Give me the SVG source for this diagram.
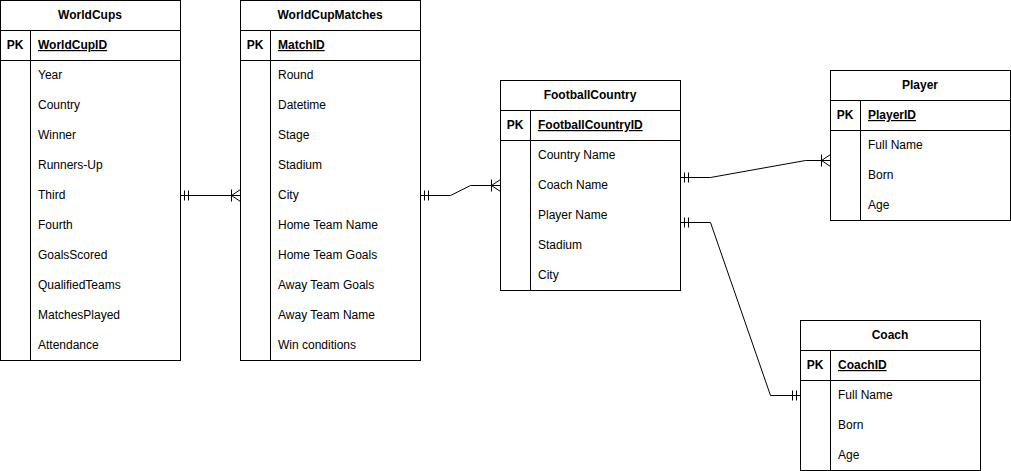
<svg xmlns="http://www.w3.org/2000/svg" width="1011" height="471" viewBox="0 0 1011 471">
<style>
rect.box{fill:#fff;stroke:#000;stroke-width:1}
line.sep{stroke:#000;stroke-width:1}
text{font-family:"Liberation Sans",Arial,sans-serif;font-size:12px;fill:#000}
.t{font-weight:bold;text-anchor:middle}
.pk{font-weight:bold;text-anchor:middle}
.id{font-weight:bold;text-decoration:underline}
.c path{fill:none;stroke:#000;stroke-width:1}
</style>
<rect width="1011" height="471" fill="#fff"/>
<g id="WorldCups">
<rect class="box" x="0.5" y="0.5" width="180" height="360"/>
<line class="sep" x1="0.5" y1="30.5" x2="180.5" y2="30.5"/>
<line class="sep" x1="0.5" y1="60.5" x2="180.5" y2="60.5"/>
<line class="sep" x1="30.5" y1="30.5" x2="30.5" y2="360.5"/>
<text class="t" x="90" y="19">WorldCups</text>
<text class="pk" x="15" y="49">PK</text>
<text class="id" x="38" y="49">WorldCupID</text>
<text x="38" y="79">Year</text>
<text x="38" y="109">Country</text>
<text x="38" y="139">Winner</text>
<text x="38" y="169">Runners-Up</text>
<text x="38" y="199">Third</text>
<text x="38" y="229">Fourth</text>
<text x="38" y="259">GoalsScored</text>
<text x="38" y="289">QualifiedTeams</text>
<text x="38" y="319">MatchesPlayed</text>
<text x="38" y="349">Attendance</text>
</g>
<g id="WorldCupMatches">
<rect class="box" x="240.5" y="0.5" width="180" height="360"/>
<line class="sep" x1="240.5" y1="30.5" x2="420.5" y2="30.5"/>
<line class="sep" x1="240.5" y1="60.5" x2="420.5" y2="60.5"/>
<line class="sep" x1="270.5" y1="30.5" x2="270.5" y2="360.5"/>
<text class="t" x="330" y="19">WorldCupMatches</text>
<text class="pk" x="255" y="49">PK</text>
<text class="id" x="278" y="49">MatchID</text>
<text x="278" y="79">Round</text>
<text x="278" y="109">Datetime</text>
<text x="278" y="139">Stage</text>
<text x="278" y="169">Stadium</text>
<text x="278" y="199">City</text>
<text x="278" y="229">Home Team Name</text>
<text x="278" y="259">Home Team Goals</text>
<text x="278" y="289">Away Team Goals</text>
<text x="278" y="319">Away Team Name</text>
<text x="278" y="349">Win conditions</text>
</g>
<g id="FootballCountry">
<rect class="box" x="500.5" y="80.5" width="180" height="210"/>
<line class="sep" x1="500.5" y1="110.5" x2="680.5" y2="110.5"/>
<line class="sep" x1="500.5" y1="140.5" x2="680.5" y2="140.5"/>
<line class="sep" x1="530.5" y1="110.5" x2="530.5" y2="290.5"/>
<text class="t" x="590" y="99">FootballCountry</text>
<text class="pk" x="515" y="129">PK</text>
<text class="id" x="538" y="129">FootballCountryID</text>
<text x="538" y="159">Country Name</text>
<text x="538" y="189">Coach Name</text>
<text x="538" y="219">Player Name</text>
<text x="538" y="249">Stadium</text>
<text x="538" y="279">City</text>
</g>
<g id="Player">
<rect class="box" x="830.5" y="70.5" width="180" height="150"/>
<line class="sep" x1="830.5" y1="100.5" x2="1010.5" y2="100.5"/>
<line class="sep" x1="830.5" y1="130.5" x2="1010.5" y2="130.5"/>
<line class="sep" x1="860.5" y1="100.5" x2="860.5" y2="220.5"/>
<text class="t" x="920" y="89">Player</text>
<text class="pk" x="845" y="119">PK</text>
<text class="id" x="868" y="119">PlayerID</text>
<text x="868" y="149">Full Name</text>
<text x="868" y="179">Born</text>
<text x="868" y="209">Age</text>
</g>
<g id="Coach">
<rect class="box" x="800.5" y="320.5" width="180" height="150"/>
<line class="sep" x1="800.5" y1="350.5" x2="980.5" y2="350.5"/>
<line class="sep" x1="800.5" y1="380.5" x2="980.5" y2="380.5"/>
<line class="sep" x1="830.5" y1="350.5" x2="830.5" y2="470.5"/>
<text class="t" x="890" y="339">Coach</text>
<text class="pk" x="815" y="369">PK</text>
<text class="id" x="838" y="369">CoachID</text>
<text x="838" y="399">Full Name</text>
<text x="838" y="429">Born</text>
<text x="838" y="459">Age</text>
</g>
<g id="connectors" class="c">
<path d="M180.5 195.5 H240.5"/>
<path d="M184.5 190.5 V200.5 M188.5 190.5 V200.5"/>
<path d="M240.5 189.5 L231.5 195.5 L240.5 201.5 M231.5 189.5 V201.5"/>
<path d="M420.5 195.5 H450.5 L470.5 185.5 H500.5"/>
<path d="M424.5 190.5 V200.5 M428.5 190.5 V200.5"/>
<path d="M500.5 179.5 L491.5 185.5 L500.5 191.5 M491.5 179.5 V191.5"/>
<path d="M680.5 177.5 H710.5 L805.5 160.5 H830.5"/>
<path d="M684.5 172.5 V182.5 M688.5 172.5 V182.5"/>
<path d="M830.5 154.5 L821.5 160.5 L830.5 166.5 M821.5 154.5 V166.5"/>
<path d="M680.5 222.5 H710.5 L770.5 395.5 H800.5"/>
<path d="M684.5 217.5 V227.5 M688.5 217.5 V227.5"/>
<path d="M792.5 390.5 V400.5 M796.5 390.5 V400.5"/>
</g>
</svg>
